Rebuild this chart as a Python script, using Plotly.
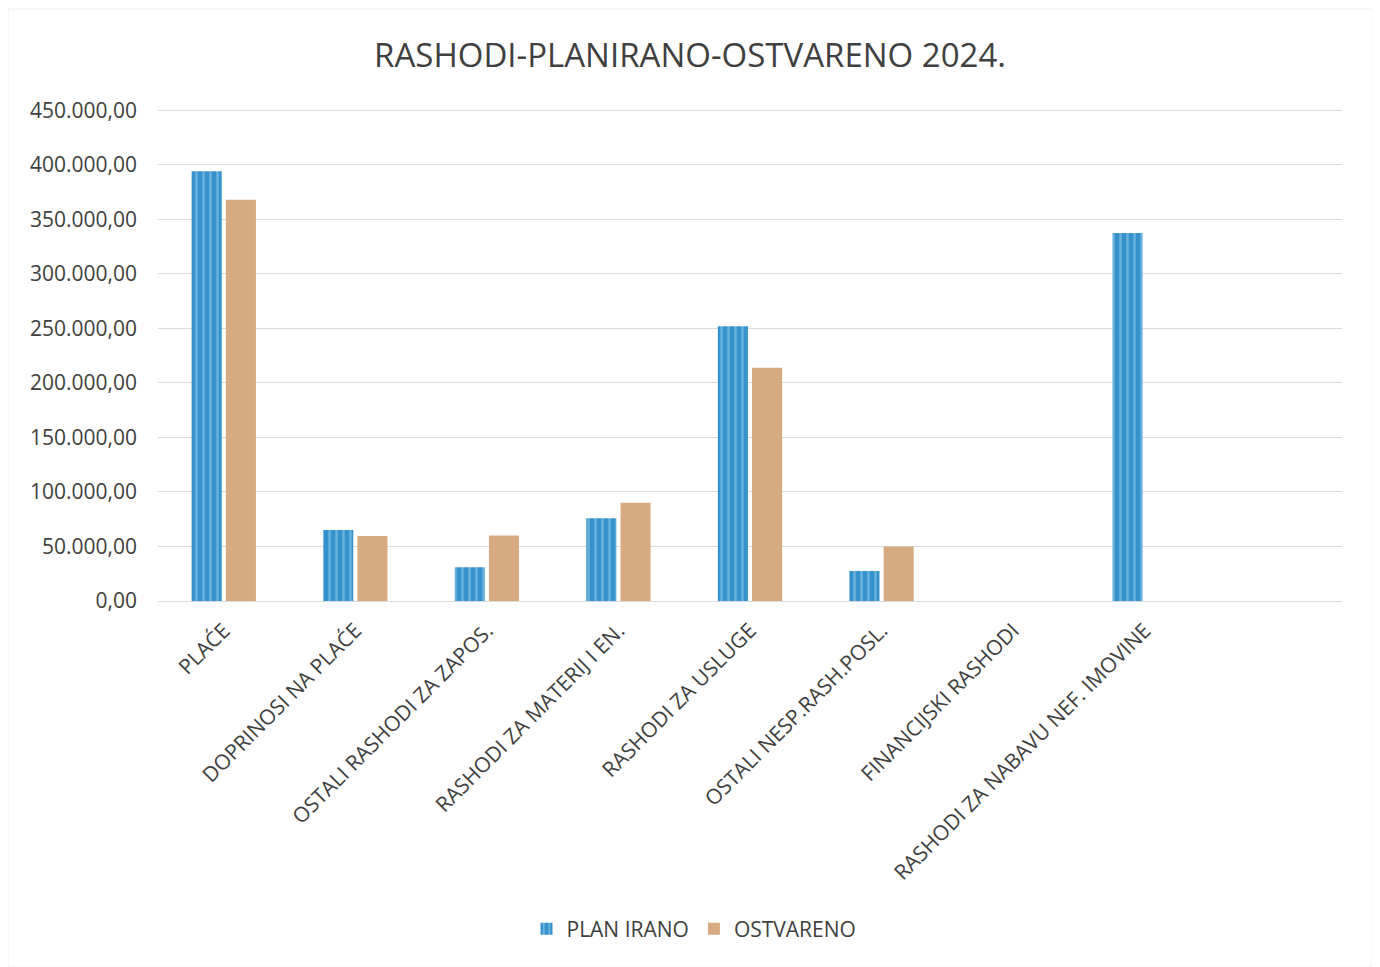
import plotly.graph_objects as go

categories = [
    "PLAĆE",
    "DOPRINOSI NA PLAĆE",
    "OSTALI RASHODI ZA ZAPOS.",
    "RASHODI ZA MATERIJ I EN.",
    "RASHODI ZA USLUGE",
    "OSTALI NESP.RASH.POSL.",
    "FINANCIJSKI RASHODI",
    "RASHODI ZA NABAVU NEF. IMOVINE",
]
planirano = [394000, 65000, 31000, 76000, 252000, 27500, 0, 337500]
ostvareno = [368000, 59500, 60000, 90000, 214000, 50000, 0, 0]

y_ticks = [0, 50000, 100000, 150000, 200000, 250000, 300000, 350000, 400000, 450000]

fig = go.Figure()

fig.add_trace(go.Bar(
    x=categories, y=planirano, name="PLAN IRANO",
    marker=dict(
        color="#3592cc",
        line=dict(width=0),
        pattern=dict(shape="|", fgcolor="#9fd3f0", size=7, solidity=0.35),
    ),
))
fig.add_trace(go.Bar(
    x=categories, y=ostvareno, name="OSTVARENO",
    marker=dict(color="#d6ab82", line=dict(width=0)),
))

# page body adds ~8px offset, margins below are relative to the figure
fig.update_layout(
    title=dict(text="RASHODI-PLANIRANO-OSTVARENO 2024.", x=682 / 1380, xanchor="center",
               y=1 - 47 / 967, yanchor="middle",
               font=dict(family="Open Sans", size=33, color="#404040")),
    width=1380, height=967,
    margin=dict(l=150, r=46, t=101, b=374),
    paper_bgcolor="white", plot_bgcolor="white",
    font=dict(family="Open Sans", color="#404040"),
    separators=",.",
    barmode="group", bargap=0.48, bargroupgap=0.12,
    showlegend=True,
    legend=dict(orientation="h", x=(686 - 150) / 1184, xanchor="center",
                y=-(921 - 593) / 492, yanchor="middle",
                font=dict(size=21, color="#404040"), itemwidth=30),
    shapes=[dict(type="rect", xref="paper", yref="paper",
                 x0=-150 / 1184, x1=1 + 30 / 1184,
                 y0=-366 / 492, y1=1 + 100 / 492,
                 line=dict(color="#eef2f2", width=1))],
)

fig.update_yaxes(
    range=[0, 451200], tickvals=y_ticks, tickformat=",.2f",
    showgrid=True, gridcolor="#dadada", gridwidth=1,
    zeroline=False, showline=False, ticks="",
    tickfont=dict(size=21, color="#404040"), ticklabelstandoff=20,
)
fig.update_xaxes(
    range=[-0.5, 8.5], tickangle=-45, showgrid=False,
    showline=True, linecolor="#dadada", linewidth=1,
    ticks="", tickfont=dict(size=21, color="#404040"), ticklabelstandoff=8,
)

fig.write_html("out.html")
